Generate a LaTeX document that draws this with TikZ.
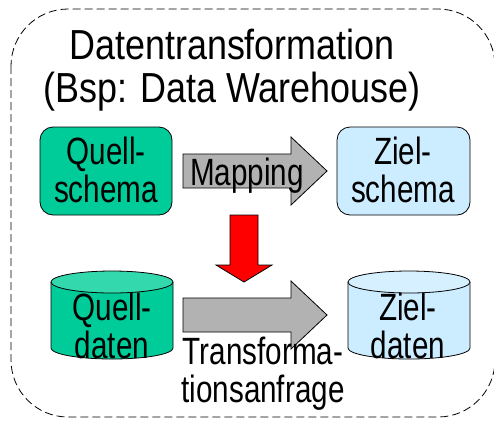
\documentclass[tikz,border=0pt]{standalone}
\usepackage{fontspec}
\setmainfont{Liberation Sans}
\definecolor{qgreen}{HTML}{00CC99}
\definecolor{qtop}{HTML}{33D9AD}
\definecolor{zblue}{HTML}{CCECFF}
\definecolor{ztop}{HTML}{D6F0FF}
\definecolor{agray}{HTML}{B2B2B2}
\newcommand{\squeezed}[4]{\scalebox{#1}[1]{\fontsize{#2}{#3}\selectfont\begin{tabular}{@{}c@{}}#4\end{tabular}}}
\tikzset{
 every node/.style={inner sep=0pt,text=black},
 schema/.style={draw=black,line width=0.8pt,rounded corners=13pt},
 cyl/.style={draw=black,line width=0.8pt},
 blockarrow/.style={draw=black,line width=0.8pt,fill=agray}
}
\begin{document}
\begin{tikzpicture}[x=1pt,y=-1pt]
\useasboundingbox (0,0) rectangle (494,421);
\fill[white] (0,0) rectangle (494,421);
\draw[dash pattern=on 8pt off 4pt,line width=0.8pt,rounded corners=57pt] (11,9) rectangle (495,417);
\node (title) at (232,71.8) {\squeezed{0.855}{42}{41}{Datentransformation\\(Bsp: Data Warehouse)}};
% arrows
\draw[blockarrow] (183,154) -- (291,154) -- (291,137) -- (327,171) -- (291,205) -- (291,188) -- (183,188) -- cycle;
\draw[blockarrow] (183,298) -- (291,298) -- (291,281) -- (327,315) -- (291,349) -- (291,332) -- (183,332) -- cycle;
\draw[draw=black,line width=0.8pt,fill=red] (230,215) -- (258,215) -- (258,265) -- (272,265) -- (244,282) -- (216,265) -- (230,265) -- cycle;
% schema boxes
\draw[schema,fill=qgreen] (40,127) rectangle (172,215);
\draw[schema,fill=zblue] (337,127) rectangle (470,215);
\node (qs) at (106,175) {\squeezed{0.78}{38}{35}{Quell-\\schema}};
\node (zs) at (403,175) {\squeezed{0.78}{38}{35}{Ziel-\\schema}};
\node (map) at (247,177) {\squeezed{0.78}{38}{36}{Mapping}};
% cylinders
\draw[cyl,fill=qgreen] (51,282) -- (51,348) arc[start angle=180,end angle=0,x radius=61,y radius=11] -- (173,282);
\draw[cyl,fill=qtop] (112,282) ellipse[x radius=61,y radius=11];
\draw[cyl,fill=zblue] (348,282) -- (348,348) arc[start angle=180,end angle=0,x radius=61,y radius=11] -- (470,282);
\draw[cyl,fill=ztop] (409,282) ellipse[x radius=61,y radius=11];
\node (qd) at (112,331) {\squeezed{0.78}{38}{35}{Quell-\\daten}};
\node (zd) at (408,331) {\squeezed{0.78}{38}{35}{Ziel-\\daten}};
\node (tf) at (263,375) {\squeezed{0.78}{38}{35}{Transforma-\\tionsanfrage}};
\end{tikzpicture}
\end{document}
